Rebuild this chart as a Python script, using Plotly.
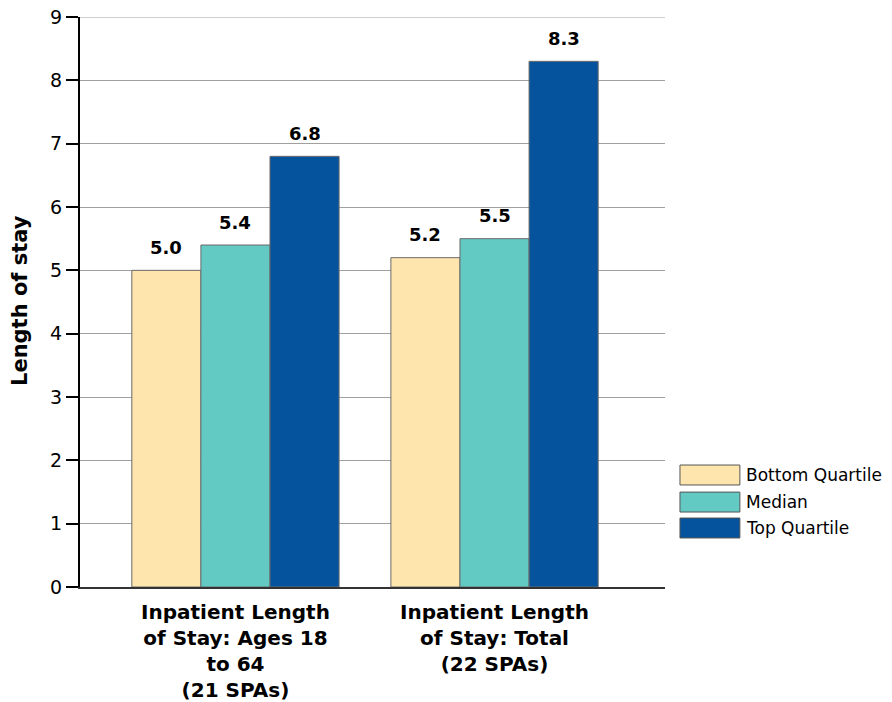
import plotly.graph_objects as go

categories = ["Inpatient Length<br>of Stay: Ages 18<br>to 64<br>(21 SPAs)",
              "Inpatient Length<br>of Stay: Total<br>(22 SPAs)"]
series_names = ["Bottom Quartile", "Median", "Top Quartile"]
bottom_quartile = [5.0, 5.2]
median = [5.4, 5.5]
top_quartile = [6.8, 8.3]
colors = ["#FDE5AD", "#62C9C3", "#04539C"]
y_ticks = [0, 1, 2, 3, 4, 5, 6, 7, 8, 9]

FONT = "DejaVu Sans, Liberation Sans, Arial, sans-serif"
BARGAP = 0.2
GRID = "#a0a0a0"

fig = go.Figure()
all_series = [bottom_quartile, median, top_quartile]
for name, vals, col in zip(series_names, all_series, colors):
    fig.add_trace(go.Bar(
        x=[0, 1], y=vals, name=name,
        marker=dict(color=col, line=dict(color="#6b6b6b", width=1)),
        showlegend=False,
    ))

# value labels above bars (data coords, offset per group slot)
n = len(all_series)
slot = (1 - BARGAP) / n
for i, vals in enumerate(all_series):
    for j, v in enumerate(vals):
        fig.add_annotation(x=j + (i - (n - 1) / 2) * slot, y=v, text=f"<b>{v:.1f}</b>",
                           showarrow=False, yanchor="middle", yshift=23,
                           font=dict(size=18, family=FONT, color="black"))

fig.update_layout(
    width=892, height=702,
    margin=dict(l=80, r=227, t=17, b=115),
    paper_bgcolor="white", plot_bgcolor="white",
    barmode="group", bargap=BARGAP, bargroupgap=0,
    font=dict(family=FONT, size=18, color="black"),
    xaxis=dict(
        tickmode="array", tickvals=[0, 1], ticktext=[f"<b>{c}</b>" for c in categories],
        range=[-0.6, 1.658], showline=True, linecolor="#333", linewidth=2,
        showgrid=False, ticks="", tickfont=dict(size=20, family=FONT),
        ticklabelstandoff=6,
        zeroline=False, automargin=False,
    ),
    yaxis=dict(
        range=[0, 9], tickvals=y_ticks, showline=True, linecolor="black", linewidth=2,
        ticks="outside", ticklen=12, tickwidth=2, tickcolor="black",
        showgrid=True, gridcolor=GRID, gridwidth=1, zeroline=False,
        tickfont=dict(size=19, family=FONT), automargin=False,
        ticklabeloverflow="allow",
    ),
)

# top gridline at the range edge (plotly omits it)
fig.add_shape(type="line", xref="paper", yref="y", x0=0, x1=1, y0=y_ticks[-1], y1=y_ticks[-1],
              line=dict(color=GRID, width=1), layer="below")

fig.add_annotation(xref="paper", yref="paper", x=-0.1026, y=0.5035,
                   text="<b>Length of stay</b>", textangle=-90, showarrow=False,
                   xanchor="center", yanchor="middle",
                   font=dict(size=21, family=FONT, color="black"))

# Manual legend with large swatches
leg_y = [0.1965, 0.149, 0.1035]
for name, col, yy in zip(series_names, colors, leg_y):
    fig.add_shape(type="rect", xref="paper", yref="paper",
                  x0=1.0256, x1=1.128, y0=yy - 0.0175, y1=yy + 0.0175,
                  fillcolor=col, line=dict(color="#555", width=1))
    fig.add_annotation(xref="paper", yref="paper", x=1.135, y=yy, text=name,
                       showarrow=False, xanchor="left", yanchor="middle",
                       font=dict(size=17, family=FONT, color="black"))

# remove the default 8px page margin so the figure fills the window exactly
fig.write_html("out.html", config={"displayModeBar": False},
               post_script="document.body.style.margin='0';")
